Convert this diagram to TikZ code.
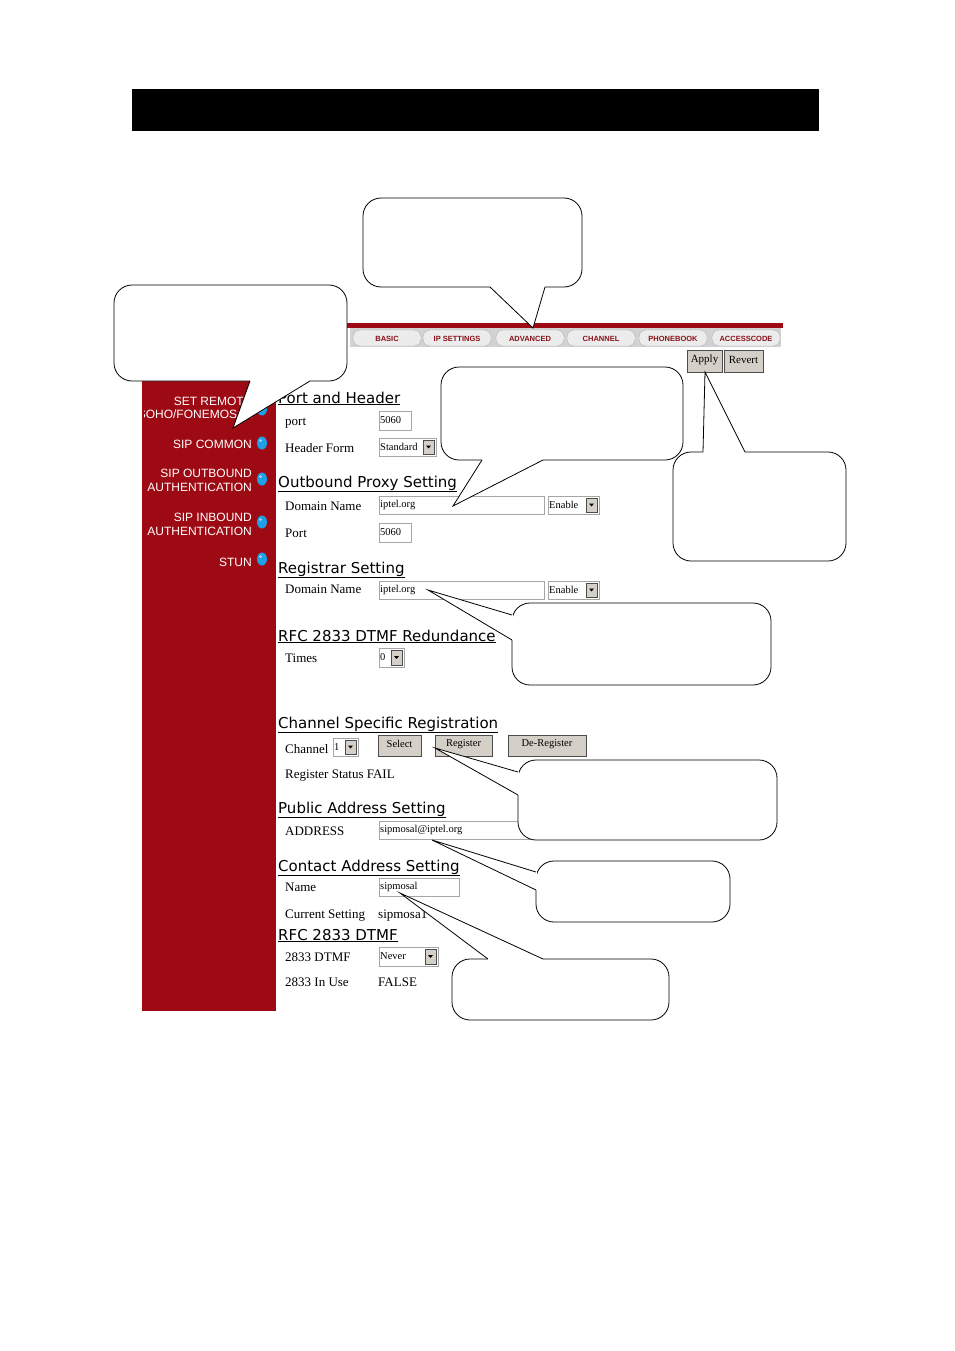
\documentclass[tikz,border=0pt]{standalone}
\usepackage{fontspec}
\setmainfont{Liberation Serif}
\newfontfamily\vfont{DejaVu Sans}
\newfontfamily\afont{Liberation Sans}
\definecolor{sidered}{HTML}{9E0A14}
\definecolor{tabred}{HTML}{8A1018}
\definecolor{btngray}{HTML}{D4D0C8}
\definecolor{dotblue}{HTML}{1E9FE8}
\tikzset{
 head/.style={anchor=base west,inner sep=0pt,font=\vfont\fontsize{15}{15}\selectfont},
 lbl/.style={anchor=base west,inner sep=0pt,font=\fontsize{13}{13}\selectfont},
 side/.style={anchor=base east,inner sep=0pt,text=white,font=\afont\fontsize{12}{12}\selectfont},
 tab/.style={inner sep=0pt,text=tabred,font=\afont\bfseries\fontsize{7.5}{7.5}\selectfont},
 inbox/.style={draw=gray!70,fill=white,line width=0.8pt},
 btn/.style={draw=gray!60!black,fill=btngray,line width=0.6pt},
 small/.style={anchor=west,inner sep=1pt,font=\fontsize{10.5}{10.5}\selectfont}
}
\newcommand\callout[5]{\draw[fill=white,rounded corners=18pt,line width=0.8pt] (#1) rectangle (#2);
 \draw[white,line width=2pt] (#3)--(#4); \fill[white] (#3)--(#5)--(#4)--cycle; \draw[line width=0.8pt] (#3)--(#5)--(#4);}
\usetikzlibrary{calc}
\begin{document}
\begin{tikzpicture}[x=1pt,y=-1pt]
\useasboundingbox (0,0) rectangle (954,1351);
\fill[white] (0,0) rectangle (954,1351);
% black header bar
\fill[black] (132,89) rectangle (819,131);
% tab bar
\fill[sidered] (347,323) rectangle (783,328);
\fill[gray!35] (350,328) rectangle (781,347);
\foreach \cx/\t in {387/BASIC,457/IP SETTINGS,530/ADVANCED,601/CHANNEL,673/PHONEBOOK,746/ACCESSCODE}{
 \draw[gray!60,fill=gray!15,rounded corners=7pt] (\cx-34,330) rectangle (\cx+34,346);
 \node[tab] (tab\cx) at (\cx,338.5) {\t};}
% apply / revert
\draw[btn] (687,350) rectangle (722,372); \node[inner sep=0pt,font=\fontsize{11}{11}\selectfont] (apply) at (704.5,360) {Apply};
\draw[btn] (724,350) rectangle (763,372); \node[inner sep=0pt,font=\fontsize{11}{11}\selectfont] (revert) at (743.5,360) {Revert};
% sidebar
\fill[sidered] (142,381) rectangle (276,1011);
\begin{scope}
\clip (144,381) rectangle (276,1011);
\node[side] at (252,405) {SET REMOTE};
\node[side] at (252,418) {SOHO/FONEMOSAL};
\node[side] at (252,448) {SIP COMMON};
\node[side] at (252,477) {SIP OUTBOUND};
\node[side] at (252,491) {AUTHENTICATION};
\node[side] at (252,521) {SIP INBOUND};
\node[side] at (252,535) {AUTHENTICATION};
\node[side] at (252,566) {STUN};
\end{scope}
\foreach \y in {409,443,479,522,559}{
 \fill[dotblue] (262,\y) ellipse (5pt and 6.5pt);
 \fill[white,opacity=0.6] (260.5,\y-2.5) circle (1.5pt);}
% headings
\foreach \y/\t in {403/Port and Header,487/Outbound Proxy Setting,573/Registrar Setting,641/RFC 2833 DTMF Redundance,728/Channel Specific Registration,813/Public Address Setting,871/Contact Address Setting,940/RFC 2833 DTMF}{
 \node[head] at (278,\y) {\underline{\t}};}
% labels
\foreach \y/\t in {425/port,452/Header Form,510/Domain Name,537/Port,593/Domain Name,662/Times,753/Channel,778/Register Status FAIL,835/ADDRESS,891/Name,918/Current Setting,961/2833 DTMF,986/2833 In Use}{
 \node[lbl] at (285,\y) {\t};}
\node[lbl] at (378,918) {sipmosa1};
\node[lbl] at (378,986) {FALSE};
% fields
\newcommand\fld[5]{\draw[inbox] (#1,#2) rectangle (#3,#4); \node[small] at (#1,{(#2+#4)/2}) {#5};}
\newcommand\dd[5]{\draw[inbox] (#1,#2) rectangle (#3,#4); \node[small] at (#1,{(#2+#4)/2}) {#5};
 \draw[btn] (#3-13,#2+2) rectangle (#3-2,#4-2); \fill (#3-10,{(#2+#4)/2-1.5}) -- (#3-5,{(#2+#4)/2-1.5}) -- (#3-7.5,{(#2+#4)/2+1.5}) -- cycle;}
\fld{379}{411}{411}{430}{5060}
\dd{379}{438}{436}{456}{Standard}
\fld{379}{496}{544}{514}{iptel.org}
\dd{548}{496}{599}{514}{Enable}
\fld{379}{523}{411}{542}{5060}
\fld{379}{581}{544}{599}{iptel.org}
\dd{548}{581}{599}{599}{Enable}
\dd{379}{648}{404}{667}{0}
\dd{333}{738}{358}{756}{1}
\draw[btn] (378,735) rectangle (421,756); \node[inner sep=0pt,font=\fontsize{10.5}{10.5}\selectfont] (bsel) at (399.5,744) {Select};
\draw[btn] (435,735) rectangle (492,756); \node[inner sep=0pt,font=\fontsize{10.5}{10.5}\selectfont] (breg) at (463.5,744) {Register};
\draw[btn] (508,735) rectangle (586,756); \node[inner sep=0pt,font=\fontsize{10.5}{10.5}\selectfont] (bdereg) at (547,744) {De-Register};
\fld{379}{821}{560}{839}{sipmosal@iptel.org}
\fld{379}{878}{459}{896}{sipmosal}
\dd{379}{947}{438}{966}{Never}
% callouts
\callout{363,198}{582,287}{490,287}{545,287}{533,328}
\callout{114,285}{347,381}{250,381}{310,381}{233,428}
\callout{441,367}{683,460}{482,460}{543,460}{453,506}
\callout{673,452}{846,561}{703,452}{745,452}{705,372}
\callout{512,603}{771,685}{512,615}{512,640}{428,590}
\callout{518,760}{777,840}{518,772}{518,795}{435,748}
\callout{536,861}{730,922}{536,872}{536,890}{432,840}
\callout{452,959}{669,1020}{488,959}{543,959}{400,893}
\end{tikzpicture}
\end{document}
